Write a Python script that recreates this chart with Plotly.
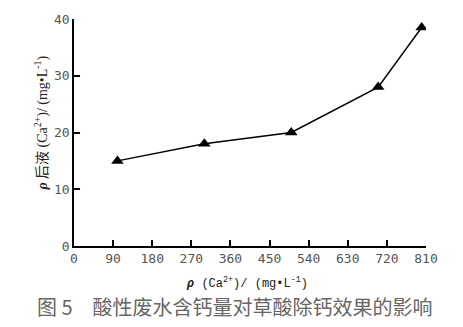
import plotly.graph_objects as go

x_vals = [100, 300, 500, 700, 800]
y_vals = [15, 18, 20, 28, 38.5]
x_ticks = [0, 90, 180, 270, 360, 450, 540, 630, 720, 810]
y_ticks = [0, 10, 20, 30, 40]
caption = "图 5　酸性废水含钙量对草酸除钙效果的影响"
x_title = "<b><i>ρ</i></b> (Ca<sup>2+</sup>)/ (mg•L<sup>-1</sup>)"
y_title = "<b><i>ρ</i></b> 后液 (Ca<sup>2+</sup>)/ (mg•L<sup>-1</sup>)"

W, H = 463, 327
L, R, T, B = 74, 37, 16, 81
pw, ph = W - L - R, H - T - B

def px(x):
    return (x - L) / pw

def py(y):
    return (H - B - y) / ph

fig = go.Figure()
fig.add_trace(go.Scatter(
    x=x_vals, y=y_vals, mode="lines+markers",
    line=dict(color="black", width=1.5),
    marker=dict(symbol="triangle-up", size=11, color="black"),
    showlegend=False,
))

tickfont = dict(family="DejaVu Sans Mono", size=13, color="#555")
axis_common = dict(ticks="inside", ticklen=6, tickwidth=1.5, tickcolor="black",
                   showline=True, linecolor="black", linewidth=1.5,
                   showgrid=False, zeroline=False, tickfont=tickfont)
fig.update_layout(
    width=W, height=H,
    margin=dict(l=L, r=R, t=T, b=B),
    paper_bgcolor="white", plot_bgcolor="white",
    xaxis=dict(range=[0, 810], tickvals=x_ticks, **axis_common),
    yaxis=dict(range=[0, 40], tickvals=y_ticks, **axis_common),
    annotations=[
        dict(text=x_title, x=px(247), y=py(283), xref="paper", yref="paper",
             xanchor="center", yanchor="middle", showarrow=False,
             font=dict(family="Liberation Mono, Noto Sans CJK SC", size=12, color="#222")),
        dict(text=y_title, x=px(42), y=py(122), xref="paper", yref="paper",
             xanchor="center", yanchor="middle", showarrow=False, textangle=-90,
             font=dict(family="Liberation Serif, Noto Sans CJK SC", size=14, color="#222")),
        dict(text=caption, x=px(235), y=py(307), xref="paper", yref="paper",
             xanchor="center", yanchor="middle", showarrow=False,
             font=dict(family="Noto Sans CJK SC", size=20, color="#666")),
    ],
)
fig.write_html("out.html")
